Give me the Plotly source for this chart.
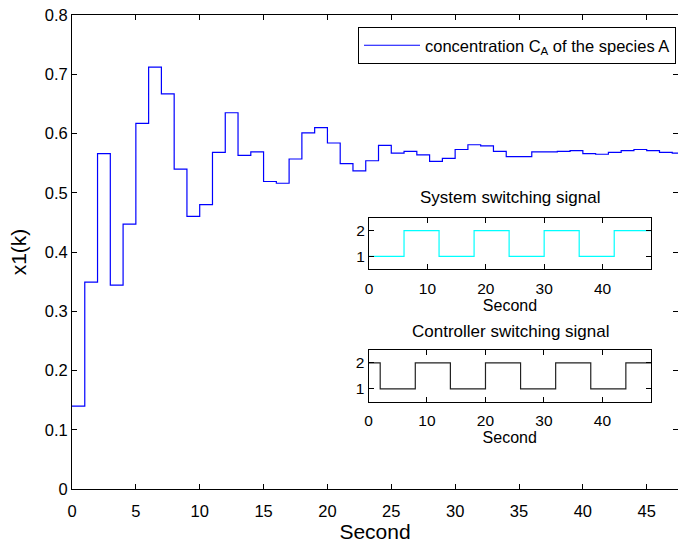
import plotly.graph_objects as go

# Main response: concentration C_A, sampled each second (step plot)
k = list(range(49))
x1 = [0.140, 0.349, 0.566, 0.344, 0.447, 0.617, 0.712, 0.667, 0.540, 0.460,
      0.480, 0.568, 0.635, 0.563, 0.569, 0.519, 0.516, 0.557, 0.601, 0.610,
      0.584, 0.549, 0.537, 0.554, 0.580, 0.567, 0.570, 0.564, 0.553, 0.558,
      0.573, 0.581, 0.579, 0.570, 0.561, 0.561, 0.569, 0.569, 0.570, 0.571,
      0.566, 0.565, 0.568, 0.571, 0.573, 0.571, 0.568, 0.567, 0.567]

# Switching signals (switch instants and values)
sys_t = [0, 6, 12, 18, 24, 30, 36, 42, 48.3]
sys_v = [1, 2, 1, 2, 1, 2, 1, 2, 2]
ctl_t = [0, 2, 8, 14, 20, 26, 32, 38, 44, 48.3]
ctl_v = [2, 1, 2, 1, 2, 1, 2, 1, 2, 2]

x_ticks = [0, 5, 10, 15, 20, 25, 30, 35, 40, 45]
y_ticks = [0, 0.1, 0.2, 0.3, 0.4, 0.5, 0.6, 0.7, 0.8]
inset_xticks = [0, 10, 20, 30, 40]
inset_yticks = [1, 2]

FONT = "Liberation Sans, Arial, sans-serif"

fig = go.Figure()
fig.add_trace(go.Scatter(x=k, y=x1, mode="lines", line=dict(color="#0000FF", width=1.2, shape="hv"),
                         name="concentration C<sub>A</sub> of the species A", xaxis="x", yaxis="y"))
fig.add_trace(go.Scatter(x=sys_t, y=sys_v, mode="lines", line=dict(color="#00FFFF", width=1.2, shape="hv"),
                         showlegend=False, xaxis="x2", yaxis="y2"))
fig.add_trace(go.Scatter(x=ctl_t, y=ctl_v, mode="lines", line=dict(color="#222222", width=1.2, shape="hv"),
                         showlegend=False, xaxis="x3", yaxis="y3"))

def ax(size, standoff=0):
    return dict(showgrid=False, zeroline=False, showline=True, linecolor="black", linewidth=1,
                mirror="ticks", ticks="inside", tickcolor="black", ticklen=5, automargin=False,
                ticklabelstandoff=standoff,
                tickfont=dict(family=FONT, size=size, color="black"))

L, R, T, B = 72, 0, 15, 56
W, H = 678, 545
pw, ph = W - L - R, H - T - B
def px(x):
    return (x - L) / pw
def py(y):
    return (H - B - y) / ph

fig.update_layout(
    width=W, height=H, margin=dict(l=L, r=R, t=T, b=B, autoexpand=False),
    paper_bgcolor="white", plot_bgcolor="white",
    font=dict(family=FONT, color="black"),
    xaxis=dict(domain=[0, 1], range=[0, 47.45], tickvals=x_ticks,
               title=dict(text="Second", font=dict(size=21), standoff=4), **ax(16.5, 7)),
    yaxis=dict(domain=[0, 1], range=[0, 0.8], tickvals=y_ticks,
               title=dict(text="x1(k)", font=dict(size=21), standoff=12), **ax(16.5)),
    xaxis2=dict(domain=[px(369), px(651)], range=[0, 48.3], tickvals=inset_xticks, anchor="y2",
                title=dict(text="Second", font=dict(size=16), standoff=0), **ax(15.5, 5)),
    yaxis2=dict(domain=[py(269.3), py(217.7)], range=[0.5, 2.5], tickvals=inset_yticks, anchor="x2",
                **ax(15.5)),
    xaxis3=dict(domain=[px(368.5), px(651)], range=[0, 48.3], tickvals=inset_xticks, anchor="y3",
                title=dict(text="Second", font=dict(size=16), standoff=0), **ax(15.5, 5)),
    yaxis3=dict(domain=[py(401.7), py(350)], range=[0.5, 2.5], tickvals=inset_yticks, anchor="x3",
                **ax(15.5)),
    legend=dict(x=px(358), xanchor="left", y=py(27), yanchor="top", bordercolor="black", borderwidth=1,
                bgcolor="white", font=dict(family=FONT, size=16.5, color="black"),
                tracegroupgap=0, itemwidth=56),
    annotations=[
        dict(text="System switching signal", x=px(510), y=py(198), xref="paper", yref="paper",
             xanchor="center", yanchor="middle",
             showarrow=False, font=dict(family=FONT, size=17, color="black")),
        dict(text="Controller switching signal", x=px(510), y=py(331.5), xref="paper", yref="paper",
             xanchor="center", yanchor="middle",
             showarrow=False, font=dict(family=FONT, size=17, color="black")),
    ],
)

fig.write_html("out.html", config={"displayModeBar": False},
               post_script="document.body.style.margin='0';document.body.style.overflow='hidden';")
